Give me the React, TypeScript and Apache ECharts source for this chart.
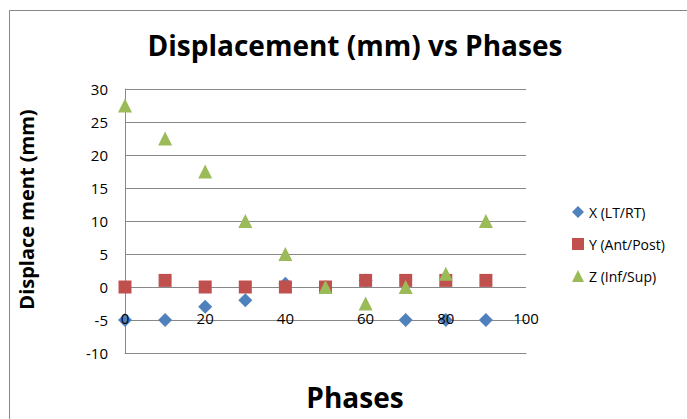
import React, { useEffect, useRef } from "react";
import * as echarts from "echarts";

const phases = [0, 10, 20, 30, 40, 50, 60, 70, 80, 90];
const xLtRt = [-5, -5, -3, -2, 0.5, 0, 1, -5, -5, -5];
const yAntPost = [0, 1, 0, 0, 0, 0, 1, 1, 1, 1];
const zInfSup = [27.5, 22.5, 17.5, 10, 5, 0, -2.5, 0, 2, 10];
const seriesNames = ["X (LT/RT)", "Y (Ant/Post)", "Z (Inf/Sup)"];
const colors = ["#4F81BD", "#C0504D", "#9BBB59"];
const chartTitle = "Displacement (mm) vs Phases";
const xTitle = "Phases";
const yTitle = "Displace ment (mm)";

const pair = (vals: number[]) => phases.map((p, i) => [p, vals[i]]);

export default function App() {
  const ref = useRef<HTMLDivElement>(null);
  useEffect(() => {
    if (!ref.current) return;
    const chart = echarts.init(ref.current, undefined, { renderer: "svg" });
    const font = "Open Sans, Noto Sans, sans-serif";
    chart.setOption({
      animation: false,
      backgroundColor: "#ffffff",
      graphic: [
        {
          type: "rect",
          shape: { x: 9.5, y: 10.5, width: 690, height: 420 },
          style: { fill: "none", stroke: "#888", lineWidth: 1 },
          silent: true,
        },
        {
          type: "text",
          x: 355,
          y: 45,
          style: {
            text: chartTitle,
            fontFamily: font,
            fontWeight: "bold",
            fontSize: 28,
            fill: "#000",
            align: "center",
            verticalAlign: "middle",
          },
        },
        {
          type: "text",
          left: 16,
          top: "middle",
          rotation: Math.PI / 2,
          style: {
            text: yTitle,
            fontFamily: font,
            fontWeight: "bold",
            fontSize: 20,
            fill: "#000",
          },
        },
        {
          type: "text",
          x: 355,
          y: 397,
          style: {
            text: xTitle,
            fontFamily: font,
            fontWeight: "bold",
            fontSize: 28,
            fill: "#000",
            align: "center",
            verticalAlign: "middle",
          },
        },
      ],
      legend: {
        orient: "vertical",
        left: 567,
        top: 200,
        itemGap: 18,
        itemWidth: 12,
        itemHeight: 12,
        textStyle: { fontFamily: font, fontSize: 14, color: "#000" },
        data: seriesNames,
      },
      grid: { left: 125, right: 161, top: 89, bottom: 66 },
      xAxis: {
        type: "value",
        min: 0,
        max: 100,
        interval: 20,
        z: 10,
        axisLine: { onZero: false, lineStyle: { color: "#888" } },
        axisTick: { show: false },
        splitLine: { show: false },
        axisLabel: { margin: -43, fontFamily: font, fontSize: 15, color: "#000" },
      },
      yAxis: {
        type: "value",
        min: -10,
        max: 30,
        interval: 5,
        axisLine: { show: true, lineStyle: { color: "#888" } },
        axisTick: { show: false },
        splitLine: { lineStyle: { color: "#888" } },
        axisLabel: { fontFamily: font, fontSize: 15, color: "#000", margin: 17 },
      },
      series: [
        {
          name: seriesNames[0],
          type: "scatter",
          symbol: "diamond",
          symbolSize: 14,
          itemStyle: { color: colors[0], opacity: 1 },
          data: pair(xLtRt),
        },
        {
          name: seriesNames[1],
          type: "scatter",
          symbol: "rect",
          symbolSize: 13,
          itemStyle: { color: colors[1], opacity: 1 },
          data: pair(yAntPost),
        },
        {
          name: seriesNames[2],
          type: "scatter",
          symbol: "triangle",
          symbolSize: 14,
          itemStyle: { color: colors[2], opacity: 1 },
          data: pair(zInfSup),
        },
      ],
    });
    return () => chart.dispose();
  }, []);
  return <div ref={ref} style={{ width: 687, height: 419, position: "absolute", left: 0, top: 0 }} />;
}
